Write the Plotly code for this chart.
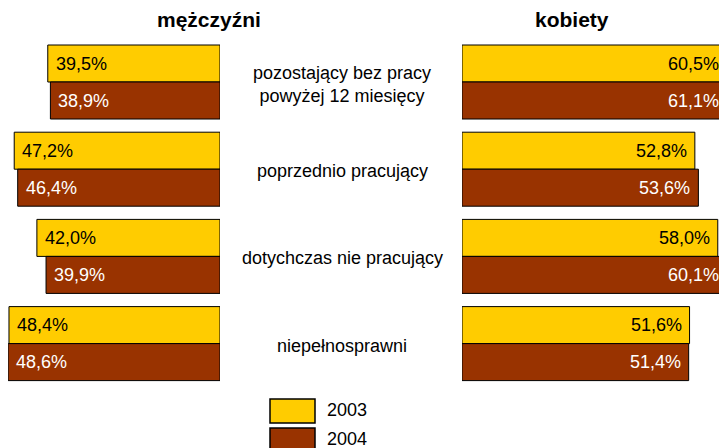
import plotly.graph_objects as go

categories = ["pozostający bez pracy<br>powyżej 12 miesięcy", "poprzednio pracujący",
              "dotychczas nie pracujący", "niepełnosprawni"]
years = ["2003", "2004"]
men_2003 = [39.5, 47.2, 42.0, 48.4]
men_2004 = [38.9, 46.4, 39.9, 48.6]
women_2003 = [60.5, 52.8, 58.0, 51.6]
women_2004 = [61.1, 53.6, 60.1, 51.4]

colors = {"2003": "#FFCC00", "2004": "#993300"}
text_colors = {"2003": "black", "2004": "white"}
FONT = "Liberation Sans, Arial, sans-serif"

def fmt(v):
    return f"{v:.1f}".replace(".", ",") + "%"

# page body has an 8px margin; work in reference pixels and subtract it
OFF = 8
W, H = 727 - OFF, 448 - OFF
def fx(px):
    return (px - OFF) / W
def fy(py):
    return 1 - (py - OFF) / H

left_zero = 220 - OFF
right_zero = 462 - OFF
px_left = 4.36
px_right = 4.41
spacing = 87.2
first_center = 82 - OFF
bargap = 1 - 74 / spacing
bw = (1 - bargap) / 2
yrange = [(H - first_center) / spacing, -first_center / spacing]
left_max = left_zero / px_left
right_max = (W - right_zero) / px_right

fig = go.Figure()
idx = list(range(len(categories)))

for yr, vals in zip(years, [men_2003, men_2004]):
    fig.add_trace(go.Bar(
        y=idx, x=vals, orientation="h", xaxis="x", yaxis="y", name=yr,
        marker=dict(color=colors[yr], line=dict(color="black", width=1)),
        showlegend=False, cliponaxis=True, hoverinfo="skip"))

for yr, vals in zip(years, [women_2003, women_2004]):
    fig.add_trace(go.Bar(
        y=idx, x=vals, orientation="h", xaxis="x2", yaxis="y2", name=yr,
        marker=dict(color=colors[yr], line=dict(color="black", width=1)),
        showlegend=False, cliponaxis=True, hoverinfo="skip"))

fig.update_layout(
    width=W, height=H, margin=dict(l=0, r=0, t=0, b=0),
    paper_bgcolor="white", plot_bgcolor="rgba(0,0,0,0)",
    barmode="group", bargap=bargap, bargroupgap=0,
    xaxis=dict(domain=[0, left_zero / W], range=[left_max, 0], visible=False),
    yaxis=dict(domain=[0, 1], range=yrange, visible=False),
    xaxis2=dict(domain=[right_zero / W, 1], range=[0, right_max], visible=False),
    yaxis2=dict(domain=[0, 1], range=yrange, visible=False, anchor="x2"),
)

# value labels
for k, yr in enumerate(years):
    dy = (k - 0.5) * bw
    for i, v in enumerate([men_2003, men_2004][k]):
        fig.add_annotation(x=min(v, left_max), xref="x", y=i + dy, yref="y", text=fmt(v),
                           showarrow=False, xanchor="left", yanchor="middle", xshift=6,
                           font=dict(family=FONT, size=18, color=text_colors[yr]))
    for i, v in enumerate([women_2003, women_2004][k]):
        fig.add_annotation(x=min(v, right_max), xref="x2", y=i + dy, yref="y2", text=fmt(v),
                           showarrow=False, xanchor="right", yanchor="middle", xshift=-6,
                           font=dict(family=FONT, size=18, color=text_colors[yr]))

for i, c in enumerate(categories):
    fig.add_annotation(x=fx(342), xref="paper", y=i, yref="y", text=c, showarrow=False,
                       xanchor="center", yanchor="middle", yshift=-2,
                       font=dict(family=FONT, size=18, color="black"))

fig.add_annotation(x=fx(155), y=fy(20), xref="paper", yref="paper", text="<b>mężczyźni</b>",
                   showarrow=False, yanchor="middle", font=dict(family=FONT, size=21, color="black"))
fig.add_annotation(x=fx(611), y=fy(20), xref="paper", yref="paper", text="<b>kobiety</b>",
                   showarrow=False, yanchor="middle", font=dict(family=FONT, size=21, color="black"))

# legend
for k, yr in enumerate(years):
    y0 = 399 + k * 29
    fig.add_shape(type="rect", xref="paper", yref="paper",
                  x0=fx(270), x1=fx(315), y0=fy(y0), y1=fy(y0 + 24),
                  fillcolor=colors[yr], line=dict(color="black", width=1.5))
    fig.add_annotation(x=fx(325), y=fy(y0 + 11), xref="paper", yref="paper", text=yr,
                       showarrow=False, xanchor="left", yanchor="middle",
                       font=dict(family=FONT, size=18, color="black"))

fig.write_html("out.html")
